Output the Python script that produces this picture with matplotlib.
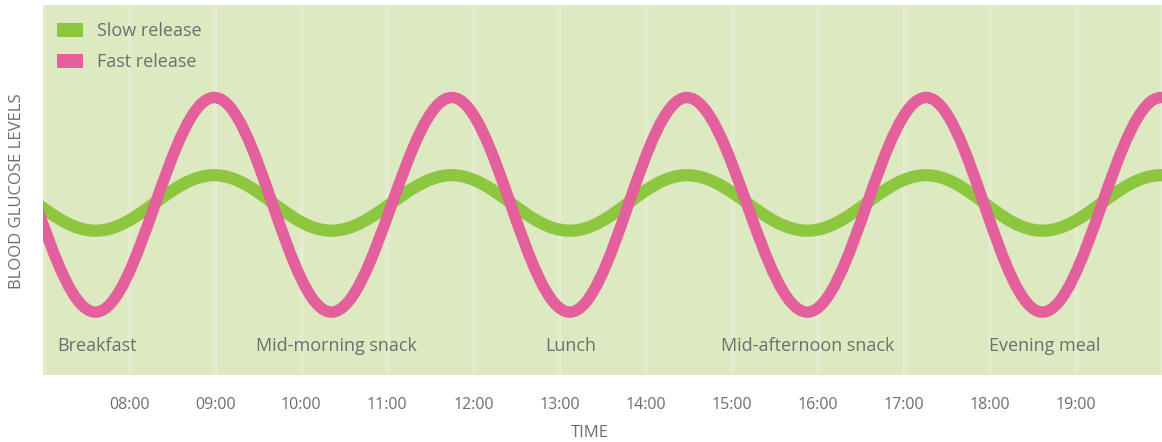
import matplotlib
matplotlib.use("Agg")
import matplotlib.pyplot as plt
from matplotlib.path import Path
from matplotlib.patches import PathPatch, Patch

plt.rcParams['font.family'] = ['Open Sans', 'DejaVu Sans']

# data (time in hours, level in arbitrary units 0-100)
turn_times = [6.23, 7.61, 8.99, 10.35, 11.75, 13.12, 14.48, 15.88, 17.26, 18.61, 19.99, 21.37]
fast_levels = [75, 17, 75, 17, 75, 17, 75, 17, 75, 17, 75, 17]
slow_levels = [54, 39, 54, 39, 54, 39, 54, 39, 54, 39, 54, 39]

hours = list(range(8, 20))
hour_labels = ['%02d:00' % h for h in hours]

meals = ['Breakfast', 'Mid-morning snack', 'Lunch', 'Mid-afternoon snack', 'Evening meal']
meal_times = [7.17, 9.48, 12.84, 14.88, 17.99]

bg = '#dce9c1'
stripe = '#e3edcd'
pink = '#e4609c'
green = '#8dc63f'
grey = '#6d6e70'


def smooth_path(ts, vs, k=0.3634):
    # cubic bezier through the turning points, flat tangent at each one
    verts = [(ts[0], vs[0])]
    codes = [Path.MOVETO]
    for i in range(1, len(ts)):
        dt = ts[i] - ts[i-1]
        verts += [(ts[i-1] + k*dt, vs[i-1]), (ts[i] - k*dt, vs[i]), (ts[i], vs[i])]
        codes += [Path.CURVE4]*3
    return Path(verts, codes)


fig = plt.figure(figsize=(11.62, 4.42), dpi=100)
ax = fig.add_axes([43/1162, 1-375/442, 1-43/1162, 370/442])
ax.set_facecolor(bg)
ax.set_xlim(7, 20)
ax.set_ylim(0, 100)

for h in range(7, 21):
    ax.axvline(h, color=stripe, lw=3.5, zorder=0)

ax.add_patch(PathPatch(smooth_path(turn_times, slow_levels), fill=False,
                       edgecolor=green, lw=8.8, capstyle='butt', zorder=2))
ax.add_patch(PathPatch(smooth_path(turn_times, fast_levels), fill=False,
                       edgecolor=pink, lw=8.2, capstyle='butt', zorder=3))

for name, t in zip(meals, meal_times):
    ax.text(t, 7.8, name, fontsize=13, color=grey, ha='left', va='center', zorder=4)

ax.set_xticks(hours)
ax.set_xticklabels(hour_labels, fontsize=11.5, color=grey)
ax.tick_params(axis='x', length=0, pad=16)
ax.set_yticks([])
for s in ax.spines.values():
    s.set_visible(False)

handles = [Patch(facecolor=green, edgecolor='none', label='Slow release'),
           Patch(facecolor=pink, edgecolor='none', label='Fast release')]
leg = ax.legend(handles=handles, loc='upper left', bbox_to_anchor=(0.0125, 0.954),
                frameon=False, fontsize=13, handlelength=1.44, handleheight=0.78,
                handletextpad=0.78, labelspacing=0.72, borderpad=0, borderaxespad=0)
for txt in leg.get_texts():
    txt.set_color(grey)

fig.text(17/1162, 1-191/442, 'BLOOD GLUCOSE LEVELS', rotation=90, ha='center',
         va='center', fontsize=12, color=grey)
fig.text(590/1162, 1-433/442, 'TIME', ha='center', va='center', fontsize=12, color=grey)

fig.savefig('out.png', dpi=100, facecolor='white')
